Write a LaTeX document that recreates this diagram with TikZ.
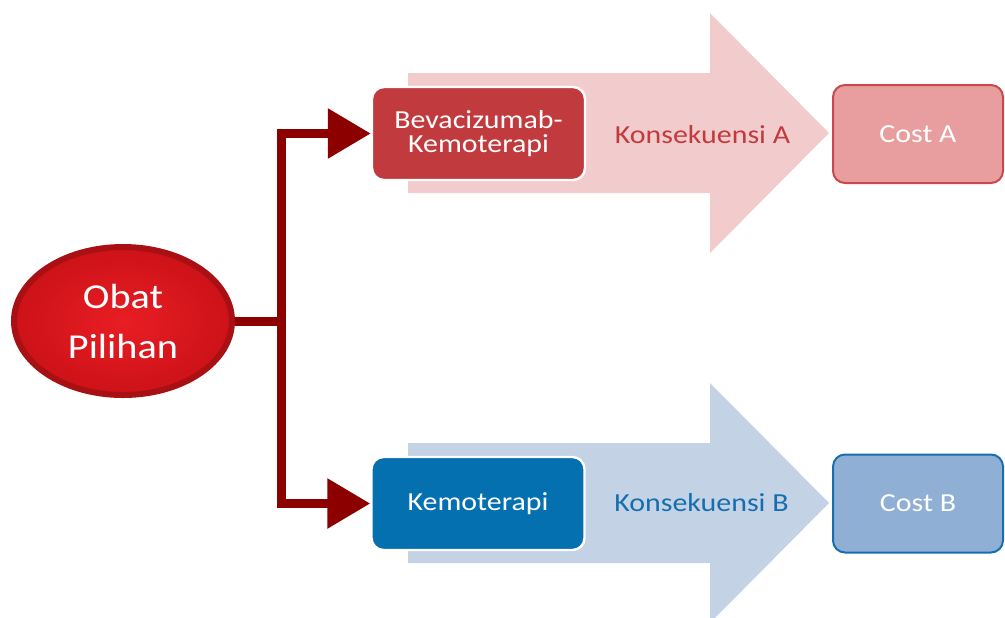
\documentclass[tikz,border=0pt]{standalone}
\usepackage{fontspec}
\setmainfont[FakeStretch=1.15]{Carlito}
\usetikzlibrary{positioning,arrows.meta,shapes.geometric}
\definecolor{ObatRed}{RGB}{232,30,36}
\definecolor{ObatDark}{RGB}{204,18,24}
\definecolor{ObatEdge}{RGB}{168,16,20}
\definecolor{LinkRed}{RGB}{140,0,0}
\definecolor{ARed}{RGB}{193,58,62}
\definecolor{APale}{RGB}{242,204,205}
\definecolor{ACost}{RGB}{232,158,158}
\definecolor{ACostEdge}{RGB}{200,72,76}
\definecolor{BBlue}{RGB}{4,112,176}
\definecolor{BPale}{RGB}{195,210,229}
\definecolor{BCost}{RGB}{143,175,212}
\definecolor{BText}{RGB}{22,110,175}

\begin{document}
\begin{tikzpicture}[x=0.5pt, y=-0.5pt,
    choice/.style={draw=white, line width=1.2pt, rounded corners=6pt, minimum width=106.5pt,
      minimum height=46.5pt, text=white, align=center, font=\fontsize{13}{12}\selectfont},
    cost/.style={line width=1pt, rounded corners=6pt, minimum width=85pt, minimum height=49pt,
      text=white, font=\fontsize{13}{15}\selectfont},
    conseq/.style={font=\fontsize{13}{15}\selectfont},
    link/.style={draw=LinkRed, line width=4.5pt, line join=miter,
      -{Triangle[length=21.5pt,width=24pt]}}]

      % Frame
      \useasboundingbox (0,0) rectangle (1005,617);

      % Background arrows
      \fill[APale] (408,73) -- (710,73) -- (710,13) -- (829,133) -- (710,253) -- (710,193) -- (408,193) -- cycle;
      \fill[BPale] (408,443) -- (710,443) -- (710,383) -- (829,503) -- (710,623) -- (710,563) -- (408,563) -- cycle;

      % Start
      \node[ellipse, draw=ObatEdge, line width=3pt, inner color=ObatRed, outer color=ObatDark,
        minimum width=109pt, minimum height=74pt, text=white, align=center,
        font=\fontsize{17.5}{25}\selectfont] (obat) at (123,321) {Obat\\Pilihan};

      % Options
      \node[choice, fill=ARed] (bev) at (478.5,133.5) {Bevacizumab-\\Kemoterapi};
      \node[choice, fill=BBlue] (kemo) at (478,503.5) {Kemoterapi};

      % Consequences
      \node[conseq, text=ARed] (konsA) at (702.5,135) {Konsekuensi A};
      \node[conseq, text=BText] (konsB) at (701.5,503) {Konsekuensi B};

      % Costs
      \node[cost, fill=ACost, draw=ACostEdge] (costA) at (918,134) {Cost A};
      \node[cost, fill=BCost, draw=BText] (costB) at (918,503.5) {Cost B};

      % Branches
      \coordinate (split) at (281,321);
      \draw[link] (obat.east) -- (split) |- (bev.west);
      \draw[link] (split) |- (kemo.west);
    \end{tikzpicture}
\end{document}
